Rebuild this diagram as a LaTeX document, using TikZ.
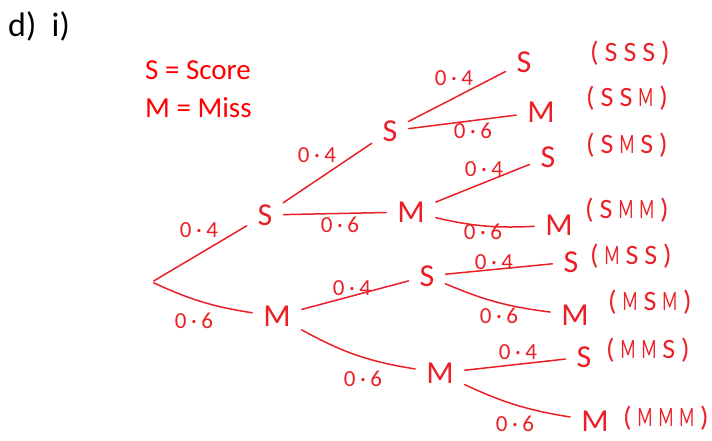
\documentclass[tikz,border=0pt]{standalone}
\usepackage{fontspec}
\setmainfont{Carlito}
\newfontfamily\handfont[LetterSpace=20]{Carlito}
\newfontfamily\slimfont[FakeStretch=0.62]{Carlito}
% one letter of an outcome, the M kept narrow like the pen's
\newcommand{\penletter}[1]{\ifx M#1{\slimfont M}\else#1\fi}
\newcommand{\tgap}{\hspace{6pt}}
\newcommand{\triple}[3]{(\tgap\penletter{#1}\tgap\penletter{#2}\tgap\penletter{#3}\tgap)}

\begin{document}
\begin{tikzpicture}[x=1pt, y=-1pt, line cap=round,
  branch/.style={ink, line width=1.5pt, shorten <=2pt, shorten >=2pt},
  pt/.style={ink, font=\fontsize{32}{32}\selectfont, inner xsep=9pt, inner ysep=4pt},
  prob/.style={ink, font=\handfont\fontsize{23}{23}\selectfont, inner sep=0pt},
  outc/.style={ink, font=\fontsize{28}{28}\selectfont, inner sep=0pt, anchor=west},
  key/.style={red, font=\fontsize{29}{29}\selectfont, anchor=base west, inner sep=0pt}]

  \definecolor{ink}{RGB}{234,32,38}   % pen colour

\useasboundingbox (0,0) rectangle (712,441);

% heading and key
\node[anchor=base west, inner sep=0pt, font=\fontsize{34}{34}\selectfont] (part) at (8,37) {d)~~i)};
\node[key] (keyS) at (145,80) {S = Score};
\node[key] (keyM) at (145,118) {M = Miss};

% first and second shot
\coordinate (root) at (152,282);
\node[pt] (s) at (265,215) {S};
\node[pt] (m) at (277,316) {M};
\node[pt] (ss) at (390,131) {S};
\node[pt] (sm) at (411,212) {M};
\node[pt] (ms) at (427,276) {S};
\node[pt] (mm) at (440,373) {M};

% third shot
\foreach \n/\l/\x/\y in {sss/S/524/62, ssm/M/541/112, sms/S/548/157, smm/M/559/225,
                         mss/S/571/262, msm/M/575/315, mms/S/584/357, mmm/M/595/421}
  \node[pt] (\n) at (\x,\y) {\l};

% outcomes
\foreach \n/\x/\y in {SSS/590/53, SSM/586/98, SMS/586/145, SMM/585/210,
                      MSS/590/256, MSM/608/302, MMS/606/350, MMM/623/418}
  \node[outc] (o\n) at (\x,\y) {\expandafter\triple\n};

% branches, some of them sag a little
\foreach \a/\b/\k in {root/s/0, root/m/8, s/ss/0, s/sm/0, m/ms/0, m/mm/10,
                      ss/sss/0, ss/ssm/0, sm/sms/0, sm/smm/8,
                      ms/mss/0, ms/msm/8, mm/mms/0, mm/mmm/8}
  \draw[branch] (\a) to[bend right=\k] (\b);

% probabilities
\foreach \n/\t/\x/\y in {s/0·4/199/230, m/0·6/194/321, ss/0·4/317/155, sm/0·6/340/225,
                         ms/0·4/352/288, mm/0·6/363/379, sss/0·4/454/78, ssm/0·6/473/131,
                         sms/0·4/484/169, smm/0·6/483/232, mss/0·4/494/262, msm/0·6/499/316,
                         mms/0·4/518/352, mmm/0·6/515/424}
  \node[prob] (p\n) at (\x,\y) {\t};

\end{tikzpicture}
\end{document}
